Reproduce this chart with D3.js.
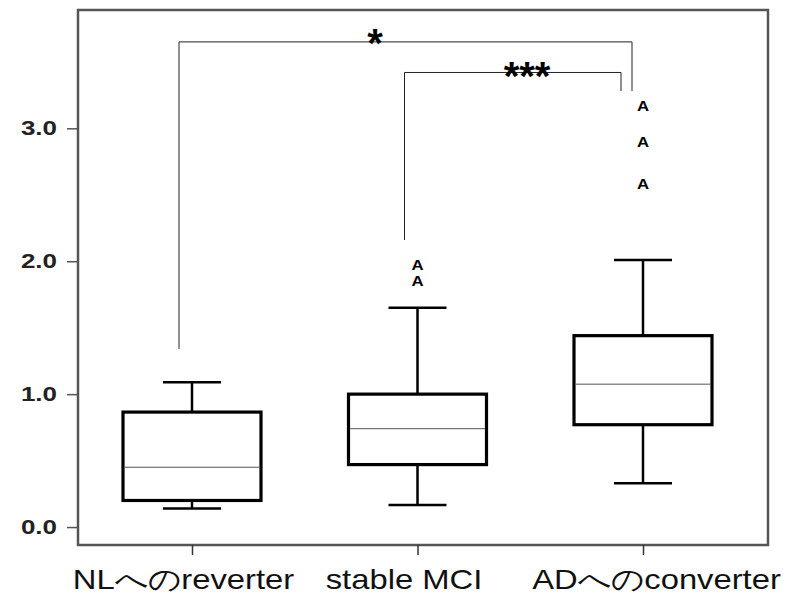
<!DOCTYPE html>
<html><head><meta charset="utf-8">
<script src="https://cdn.jsdelivr.net/npm/d3@7"></script>
<style>body{margin:0;background:#fff}svg{display:block}</style>
</head><body>
<script>
const categories = ["NLへのreverter", "stable MCI", "ADへのconverter"];
const whiskerLow = [0.14, 0.165, 0.33];
const q1 = [0.20, 0.47, 0.77];
const median = [0.45, 0.74, 1.075];
const q3 = [0.865, 1.0, 1.44];
const whiskerHigh = [1.09, 1.65, 2.01];
const outliers = [[], [1.85, 1.97], [2.58, 2.9, 3.17]];
const yTicks = [0, 1, 2, 3];
const sigFrom = [0, 1];
const sigTo = [2, 2];
const sigLeftEnd = [1.34, 2.16];
const sigRightEnd = [3.28, 3.28];
const sigLevel = [3.65, 3.42];
const sigLabel = ["*", "***"];

(function () {
const W = 800, H = 596;
const FONT = "Liberation Sans, Arial, Helvetica, sans-serif";
const svg = d3.select("body").append("svg").attr("width", W).attr("height", H);
const mL = 78, mR = 768, mT = 10, mB = 545;

const y = d3.scaleLinear().domain([-0.135, 3.89]).range([mB, mT]);
const x = d3.scalePoint().domain(categories).range([192, 643]);

svg.append("rect").attr("x", mL).attr("y", mT).attr("width", mR - mL).attr("height", mB - mT)
  .attr("fill", "none").attr("stroke", "#555").attr("stroke-width", 2.5);

const ySx = 1.3;
const yAxis = svg.append("g").attr("transform", `translate(${mL},0)`)
  .call(d3.axisLeft(y).tickValues(yTicks).tickFormat(d3.format(".1f")).tickSize(11).tickPadding(10));
yAxis.select(".domain").remove();
yAxis.selectAll(".tick line").attr("stroke", "#555").attr("stroke-width", 1.5);
yAxis.selectAll(".tick text").attr("font-family", FONT)
  .attr("font-size", 20).attr("font-weight", "bold").attr("fill", "#222")
  .attr("x", -21 / ySx).attr("transform", `scale(${ySx},1)`);

const xSx = 1.17;
const labelShift = [-9, -14, 13];
const xAxis = svg.append("g").attr("transform", `translate(0,${mB})`)
  .call(d3.axisBottom(x).tickSize(10).tickPadding(14));
xAxis.select(".domain").remove();
xAxis.selectAll(".tick line").attr("stroke", "#333").attr("stroke-width", 1.5);
xAxis.selectAll(".tick text").attr("font-family", FONT)
  .attr("font-size", 28).attr("fill", "#111").attr("dy", "0.7em")
  .attr("x", (d, i) => labelShift[i] / xSx)
  .attr("transform", `scale(${xSx},1)`);

const bw = 138, cw = 58;
const g = svg.append("g");
categories.forEach((c, i) => {
  const cx = x(c);
  const ln = (x1, x2, y1, y2, w) => g.append("line").attr("x1", x1).attr("x2", x2).attr("y1", y1).attr("y2", y2)
    .attr("stroke", "#000").attr("stroke-width", w);
  ln(cx, cx, y(q3[i]), y(whiskerHigh[i]), 2.5);
  ln(cx, cx, y(q1[i]), y(whiskerLow[i]), 2.5);
  ln(cx - cw / 2, cx + cw / 2, y(whiskerHigh[i]), y(whiskerHigh[i]), 2.5);
  ln(cx - cw / 2, cx + cw / 2, y(whiskerLow[i]), y(whiskerLow[i]), 2.5);
  g.append("rect").attr("x", cx - bw / 2).attr("y", y(q3[i])).attr("width", bw).attr("height", y(q1[i]) - y(q3[i]))
    .attr("fill", "#fff").attr("stroke", "#000").attr("stroke-width", 3.2);
  g.append("line").attr("x1", cx - bw / 2 + 1.5).attr("x2", cx + bw / 2 - 1.5).attr("y1", y(median[i])).attr("y2", y(median[i]))
    .attr("stroke", "#555").attr("stroke-width", 1);
  outliers[i].forEach(v => {
    g.append("text").attr("transform", `translate(${cx},${y(v)}) scale(1.2,1)`)
      .attr("text-anchor", "middle").attr("dominant-baseline", "central")
      .attr("font-family", FONT).attr("font-size", 14).attr("font-weight", "bold")
      .text("A");
  });
});

const offL = [-13, -13], offR = [-11, -22], labX = [375, 527], labDy = [15, 18];
sigFrom.forEach((f, k) => {
  const lx = x(categories[f]) + offL[k], rx = x(categories[sigTo[k]]) + offR[k];
  const ly = y(sigLevel[k]);
  svg.append("path")
    .attr("d", `M${lx},${y(sigLeftEnd[k])}V${ly}H${rx}V${y(sigRightEnd[k])}`)
    .attr("fill", "none").attr("stroke", "#222").attr("stroke-width", 1);
  svg.append("text").attr("x", labX[k]).attr("y", ly + labDy[k]).attr("text-anchor", "middle")
    .attr("font-family", FONT).attr("font-size", 40).attr("font-weight", "bold")
    .text(sigLabel[k]);
});
})();
</script>
</body></html>
